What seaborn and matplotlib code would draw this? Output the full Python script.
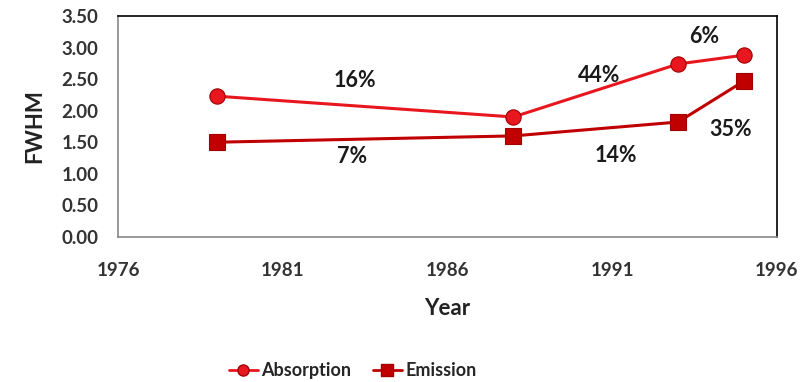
import pandas as pd
import matplotlib
matplotlib.use("Agg")
import matplotlib.pyplot as plt
import seaborn as sns
from matplotlib.lines import Line2D

# data
years = [1979, 1988, 1993, 1995]
absorption = [2.23, 1.90, 2.74, 2.88]
emission = [1.50, 1.60, 1.82, 2.47]

# percentage labels: (text, x, y)
pct_labels = ['16%', '7%', '44%', '14%', '6%', '35%']
pct_x = [1983.2, 1983.1, 1990.6, 1991.1, 1993.8, 1994.6]
pct_y = [2.48, 1.28, 2.56, 1.29, 3.18, 1.70]

sns.set_style("white")
plt.rcParams['font.family'] = ['Lato', 'DejaVu Sans']
plt.rcParams['font.weight'] = 'bold'

df = pd.concat([
    pd.DataFrame({'Year': years, 'FWHM': absorption, 'Series': 'Absorption'}),
    pd.DataFrame({'Year': years, 'FWHM': emission, 'Series': 'Emission'}),
])

fig = plt.figure(figsize=(8.11, 3.82), dpi=100)
ax = fig.add_axes([0.1455, 0.38, 0.8125, 0.578])

sns.lineplot(data=df, x='Year', y='FWHM', hue='Series', style='Series',
             palette={'Absorption': '#E8161F', 'Emission': '#C00000'},
             markers={'Absorption': 'o', 'Emission': 's'}, dashes=False,
             markersize=11, linewidth=2.2, markeredgecolor='#A00000',
             markeredgewidth=0.8, ax=ax, legend=False)

for t, x, y in zip(pct_labels, pct_x, pct_y):
    ax.text(x, y, t, ha='center', va='center', fontsize=15.5,
            fontweight='bold', color='#1a1a1a')

ax.set_xlim(1976, 1996)
ax.set_ylim(0, 3.5)
ax.set_xticks(range(1976, 1997, 5))
ax.set_yticks([i * 0.5 for i in range(8)])
ax.set_yticklabels([f'{i * 0.5:.2f}' for i in range(8)])
ax.tick_params(axis='both', labelsize=13.5, colors='#333333', length=6,
               direction='out', width=0.8)
ax.tick_params(axis='x', pad=12)
ax.tick_params(axis='y', pad=8)
for lab in ax.get_xticklabels() + ax.get_yticklabels():
    lab.set_fontweight('bold')

ax.spines['left'].set_color('#888888')
ax.spines['bottom'].set_color('#888888')
ax.spines['top'].set_color('black')
ax.spines['right'].set_color('black')
for s in ax.spines.values():
    s.set_linewidth(1.2)

ax.set_xlabel('Year', fontsize=16, fontweight='bold', labelpad=14,
              color='#222222')
ax.set_ylabel('FWHM', fontsize=16, fontweight='bold', labelpad=12,
              color='#222222')

handles = [
    Line2D([], [], color='#E8161F', marker='o', markersize=8, linewidth=2,
           markeredgecolor='#A00000'),
    Line2D([], [], color='#C00000', marker='s', markersize=8, linewidth=2,
           markeredgecolor='#A00000'),
]
fig.legend(handles, ['Absorption', 'Emission'], loc='center',
           bbox_to_anchor=(0.435, 0.03), ncol=2, frameon=False,
           fontsize=13, handlelength=1.6, columnspacing=1.2,
           handletextpad=0.2)

fig.savefig('out.png', dpi=100)
